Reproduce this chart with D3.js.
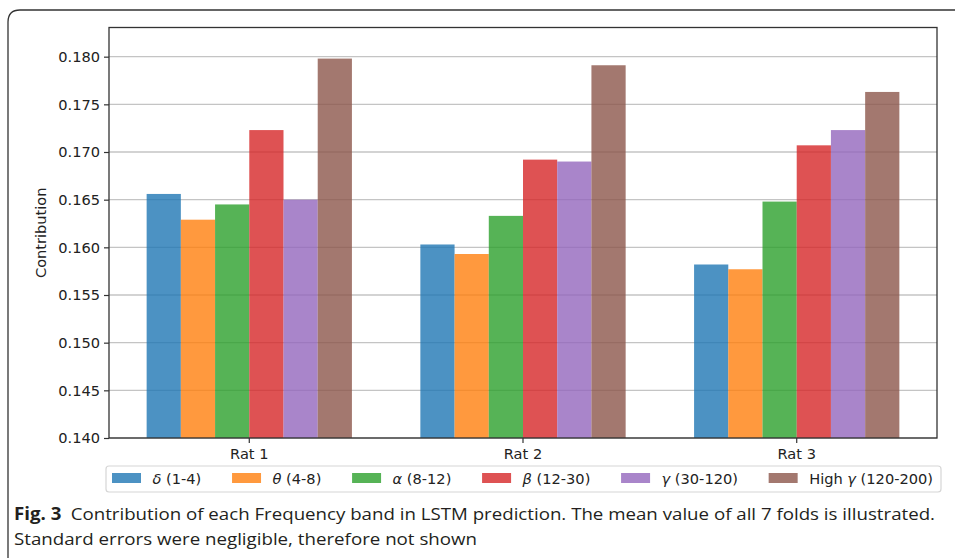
<!DOCTYPE html>
<html>
<head>
<meta charset="utf-8">
<script src="https://cdn.jsdelivr.net/npm/d3@7"></script>
<style>
  html, body { margin: 0; padding: 0; background: #fff; }
  svg { display: block; }
</style>
</head>
<body>
<svg id="chart" width="955" height="558"></svg>
<script>
// Mean contribution of each frequency band, per rat
const rats = ["Rat 1", "Rat 2", "Rat 3"];
const bands = ["δ (1-4)", "θ (4-8)", "α (8-12)", "β (12-30)", "γ (30-120)", "High γ (120-200)"];
const deltaVals     = [0.1656, 0.1603, 0.1582];
const thetaVals     = [0.1629, 0.1593, 0.1577];
const alphaVals     = [0.1645, 0.1633, 0.1648];
const betaVals      = [0.1723, 0.1692, 0.1707];
const gammaVals     = [0.1650, 0.1690, 0.1723];
const highGammaVals = [0.1798, 0.1791, 0.1763];
const yTicks = [0.140, 0.145, 0.150, 0.155, 0.160, 0.165, 0.170, 0.175, 0.180];
const bandColors = ["#1f77b4", "#ff7f0e", "#2ca02c", "#d62728", "#9467bd", "#8c564b"];

const series = [deltaVals, thetaVals, alphaVals, betaVals, gammaVals, highGammaVals];

const svg = d3.select("#chart");
const font = "'DejaVu Sans', sans-serif";
const fs = 14.6;

// Outer figure panel with rounded corner
svg.append("path")
  .attr("d", "M 8 600 L 8 22 Q 8 10 20 10 L 1000 10")
  .attr("fill", "none")
  .attr("stroke", "#333")
  .attr("stroke-width", 1.3);

const plot = { left: 109, right: 937, top: 27.5, bottom: 438 };

const x0 = d3.scaleBand().domain(rats)
  .range([plot.left, plot.right])
  .paddingInner(0.25).paddingOuter(0.1375);
const x1 = d3.scaleBand().domain(bands).range([0, x0.bandwidth()]);
const y = d3.scaleLinear().domain([0.140, 0.18306]).range([plot.bottom, plot.top]);

// Horizontal grid
svg.append("g").selectAll("line").data(yTicks).join("line")
  .attr("x1", plot.left).attr("x2", plot.right)
  .attr("y1", d => y(d)).attr("y2", d => y(d))
  .attr("stroke", "#c4c4c4").attr("stroke-width", 1.4);

// Bars
const groups = svg.append("g").selectAll("g").data(rats).join("g")
  .attr("transform", d => `translate(${x0(d)},0)`);
groups.selectAll("rect")
  .data((r, i) => bands.map((b, j) => ({ band: b, value: series[j][i], color: bandColors[j] })))
  .join("rect")
  .attr("x", d => x1(d.band))
  .attr("width", x1.bandwidth())
  .attr("y", d => y(d.value))
  .attr("height", d => y(0.140) - y(d.value))
  .attr("fill", d => d.color)
  .attr("fill-opacity", 0.8);

// Axes
const yAxis = d3.axisLeft(y).tickValues(yTicks).tickFormat(d3.format(".3f")).tickSize(5).tickPadding(4);
const gy = svg.append("g").attr("transform", `translate(${plot.left},0)`).call(yAxis);
const xAxis = d3.axisBottom(x0).tickSize(5).tickPadding(6);
const gx = svg.append("g").attr("transform", `translate(0,${plot.bottom})`).call(xAxis);
[gx, gy].forEach(g => {
  g.select(".domain").remove();
  g.selectAll("line").attr("stroke", "#333").attr("stroke-width", 1.2);
  g.selectAll("text").attr("font-family", font).attr("font-size", fs).attr("fill", "#222");
});

// Plot frame
svg.append("rect")
  .attr("x", plot.left).attr("y", plot.top)
  .attr("width", plot.right - plot.left).attr("height", plot.bottom - plot.top)
  .attr("fill", "none").attr("stroke", "#333").attr("stroke-width", 1.3);

// Y axis title
svg.append("text")
  .attr("transform", `translate(46,${(plot.top + plot.bottom) / 2}) rotate(-90)`)
  .attr("text-anchor", "middle")
  .attr("font-family", font).attr("font-size", fs).attr("fill", "#222")
  .text("Contribution");

// Legend
const legend = svg.append("g");
legend.append("rect")
  .attr("x", 106).attr("y", 466).attr("width", 835).attr("height", 26)
  .attr("rx", 3).attr("fill", "#fff").attr("stroke", "#d6d6d6").attr("stroke-width", 1.2);
const handleW = 29, handleH = 10, textPad = 11.5;
const entries = legend.selectAll("g.entry").data(bands).join("g").attr("class", "entry");
entries.append("rect")
  .attr("width", handleW).attr("height", handleH).attr("y", 473)
  .attr("fill", (d, i) => bandColors[i]).attr("fill-opacity", 0.8);
// Greek band symbols are set in italics, as in math text
entries.append("text")
  .attr("x", handleW + textPad).attr("y", 483.5)
  .attr("font-family", font).attr("font-size", fs).attr("fill", "#222")
  .each(function (d) {
    const t = d3.select(this);
    d.split(/([α-ω])/).filter(s => s.length).forEach(part => {
      const sp = t.append("tspan").text(part);
      if (/[α-ω]/.test(part)) sp.attr("font-style", "italic");
    });
  });
// Spread the columns across the legend box
const widths = entries.nodes().map(n => handleW + textPad + n.querySelector("text").getComputedTextLength());
const startX = 112, endX = 933;
const gap = (endX - startX - d3.sum(widths)) / (bands.length - 1);
let cx = startX;
entries.each(function (d, i) {
  d3.select(this).attr("transform", `translate(${cx},0)`);
  cx += widths[i] + gap;
});

// Caption
const capFont = "'Open Sans', 'Noto Sans', sans-serif";
const cap1 = svg.append("text")
  .attr("x", 14).attr("y", 520)
  .attr("font-family", capFont).attr("font-size", 17).attr("fill", "#231f20")
  .attr("textLength", 921).attr("lengthAdjust", "spacingAndGlyphs");
cap1.append("tspan").attr("font-weight", "bold").text("Fig. 3");
cap1.append("tspan").text("\u2002Contribution of each Frequency band in LSTM prediction. The mean value of all 7 folds is illustrated.");
svg.append("text")
  .attr("x", 14).attr("y", 545)
  .attr("font-family", capFont).attr("font-size", 17).attr("fill", "#231f20")
  .attr("textLength", 463).attr("lengthAdjust", "spacingAndGlyphs")
  .text("Standard errors were negligible, therefore not shown");
</script>
</body>
</html>
